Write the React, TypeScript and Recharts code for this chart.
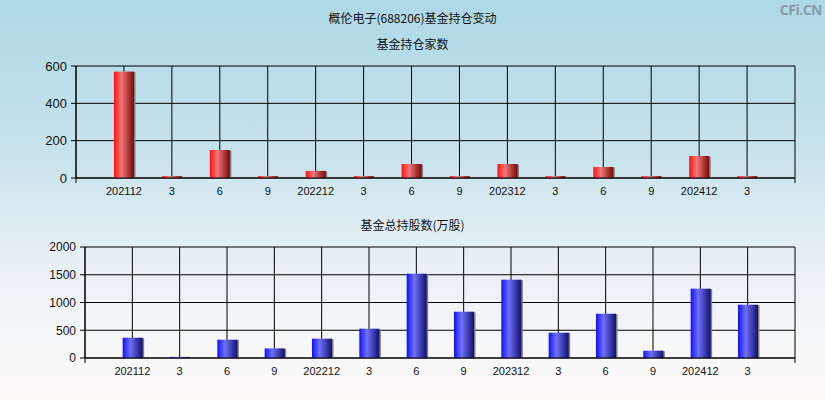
import React from "react";
import { BarChart, Bar, XAxis, YAxis, CartesianGrid } from "recharts";

const categories = ["202112", "3", "6", "9", "202212", "3", "6", "9", "202312", "3", "6", "9", "202412", "3"];
const fundCounts = [570, 10, 150, 10, 38, 10, 75, 10, 75, 10, 59, 10, 118, 10];
const fundShares = [366, 20, 330, 173, 348, 528, 1519, 834, 1411, 456, 798, 132, 1249, 960];
const countTicks = [0, 200, 400, 600];
const shareTicks = [0, 500, 1000, 1500, 2000];

const topData = categories.map((c, i) => ({ idx: i + 1, label: c, value: fundCounts[i] }));
const bottomData = categories.map((c, i) => ({ idx: i + 1, label: c, value: fundShares[i] }));
const xTicks = Array.from({ length: categories.length + 2 }, (_, i) => i);

const NUM_FONT = "'Liberation Sans', Arial, sans-serif";
const CJK_FONT = "'Noto Sans CJK SC', sans-serif";

const makeShape = (gradId: string) => (props: any) => {
  const { x, y, width, height } = props;
  if (!height || height <= 0) return <g />;
  return (
    <g>
      <rect x={x + 1.5} y={y + 0.5} width={width} height={height - 0.5} fill="#7d7d7d" />
      <rect x={x} y={y} width={width} height={height} fill={`url(#${gradId})`} />
    </g>
  );
};

const XTick = (props: any) => {
  const { x, y, payload } = props;
  const i = payload.value as number;
  const last = categories.length + 1;
  const label = i >= 1 && i <= categories.length ? categories[i - 1] : "";
  return (
    <g>
      {(i === 0 || i === last) && <line x1={x} x2={x} y1={y - 9} y2={y - 4} stroke="#000" />}
      <text x={x} y={y} dy="0.71em" textAnchor="middle" fontSize={11} fontFamily={NUM_FONT} fill="#111">
        {label}
      </text>
    </g>
  );
};

const Panel = (props: {
  data: any[];
  ticks: number[];
  max: number;
  gradId: string;
  yWidth: number;
  top: number;
  height: number;
  marginTop: number;
  yFont: number;
}) => (
  <div style={{ position: "absolute", left: 0, top: props.top }}>
    <BarChart
      width={825}
      height={props.height}
      data={props.data}
      margin={{ top: props.marginTop, right: 30, bottom: 0, left: 0 }}
    >
      <CartesianGrid stroke="#000" strokeWidth={1} />
      <XAxis
        dataKey="idx"
        type="number"
        domain={[0, categories.length + 1]}
        ticks={xTicks}
        interval={0}
        height={22}
        tickSize={5}
        tickMargin={4}
        tickLine={false}
        axisLine={{ stroke: "#000" }}
        tick={<XTick />}
      />
      <YAxis
        type="number"
        domain={[0, props.max]}
        ticks={props.ticks}
        width={props.yWidth}
        interval={0}
        tickSize={5}
        tickMargin={4}
        axisLine={{ stroke: "#000" }}
        tickLine={{ stroke: "#000" }}
        tick={{ fill: "#111", fontSize: props.yFont, fontFamily: NUM_FONT }}
      />
      <Bar dataKey="value" barSize={20} isAnimationActive={false} shape={makeShape(props.gradId)} />
    </BarChart>
  </div>
);

export default function App() {
  return (
    <div
      style={{
        position: "absolute",
        left: 0,
        top: 0,
        width: 825,
        height: 400,
        overflow: "hidden",
        background: "linear-gradient(to bottom, #add8e6 0%, #c9e3ec 40%, #e4eff4 62%, #f6f7f8 85%, #fdf9f9 100%)",
      }}
    >
      <svg width={0} height={0} style={{ position: "absolute" }}>
        <defs>
          <linearGradient id="redGrad" x1="0" y1="0" x2="1" y2="0">
            <stop offset="0%" stopColor="#ff1010" />
            <stop offset="38%" stopColor="#f07878" />
            <stop offset="100%" stopColor="#780808" />
          </linearGradient>
          <linearGradient id="blueGrad" x1="0" y1="0" x2="1" y2="0">
            <stop offset="0%" stopColor="#1010ff" />
            <stop offset="38%" stopColor="#7070f8" />
            <stop offset="100%" stopColor="#101070" />
          </linearGradient>
        </defs>
      </svg>
      <div style={{ position: "absolute", left: 0, top: 9, width: 825, textAlign: "center", fontFamily: CJK_FONT, fontSize: 12, color: "#111" }}>
        概伦电子(688206)基金持仓变动
      </div>
      <div style={{ position: "absolute", left: 0, top: 35, width: 825, textAlign: "center", fontFamily: CJK_FONT, fontSize: 12, color: "#111" }}>
        基金持仓家数
      </div>
      <div style={{ position: "absolute", left: 0, top: 216, width: 825, textAlign: "center", fontFamily: CJK_FONT, fontSize: 12, color: "#111" }}>
        基金总持股数(万股)
      </div>
      <div style={{ position: "absolute", right: 3, top: 0, fontFamily: "'Open Sans', 'Liberation Sans', sans-serif", fontWeight: 700, fontSize: 14, color: "#8a9aa8", letterSpacing: -0.5 }}>
        CFi.CN
      </div>
      <Panel data={topData} ticks={countTicks} max={600} gradId="redGrad" yWidth={76} top={0} height={200} marginTop={66} yFont={13} />
      <Panel data={bottomData} ticks={shareTicks} max={2000} gradId="blueGrad" yWidth={85} top={230} height={150} marginTop={17} yFont={12} />
    </div>
  );
}
